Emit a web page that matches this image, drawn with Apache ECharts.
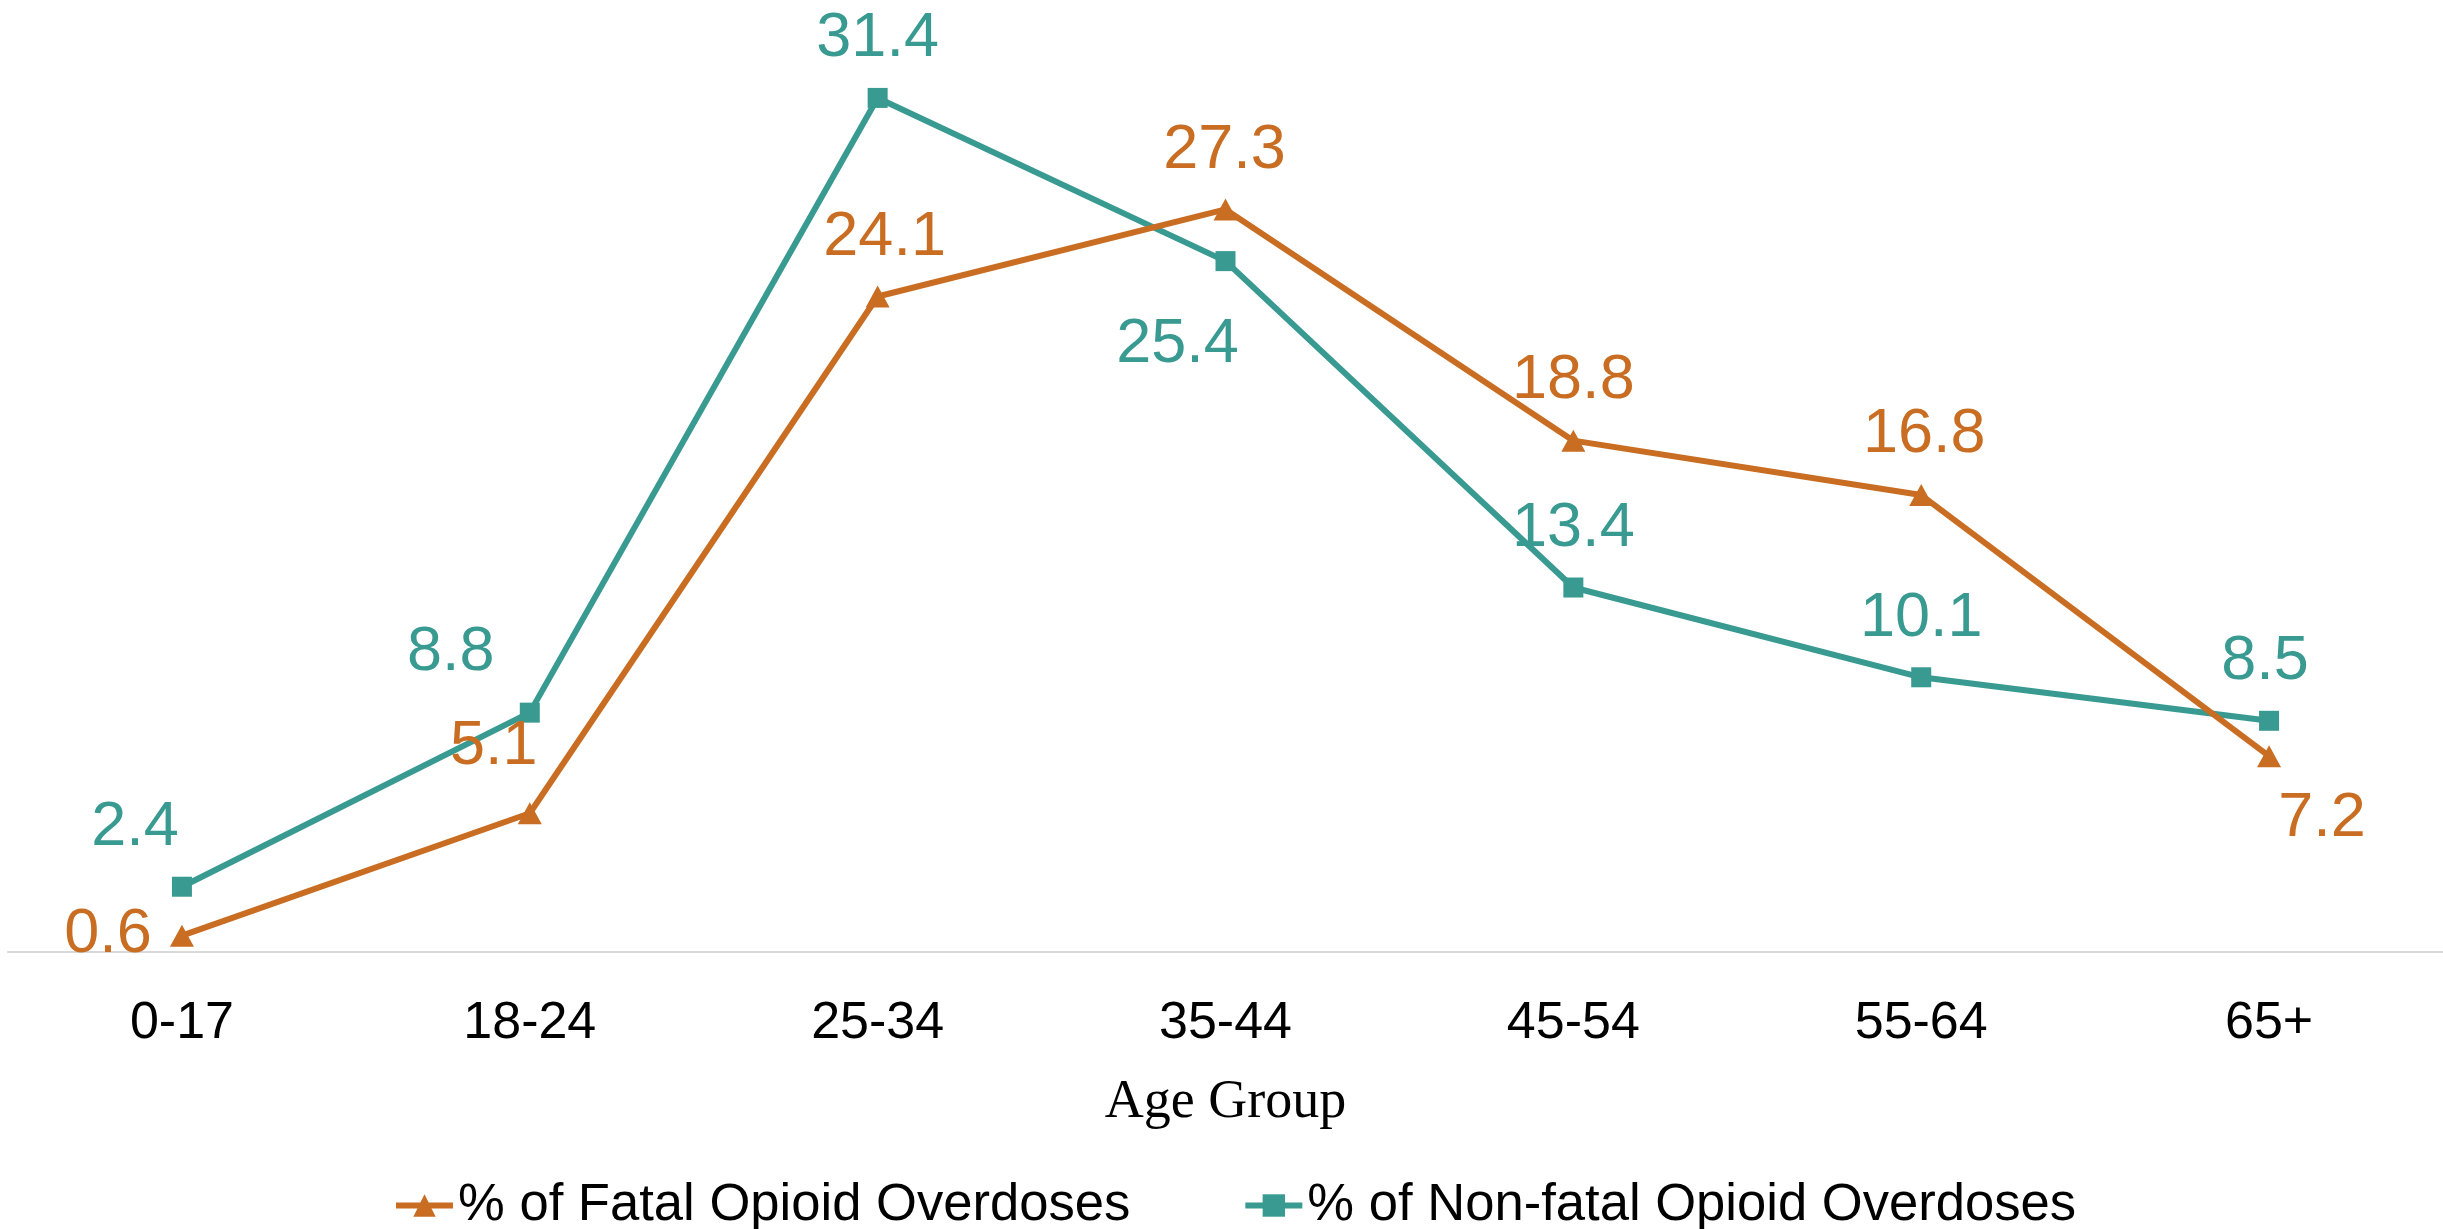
<!DOCTYPE html>
<html>
<head>
<meta charset="utf-8">
<script src="https://cdn.jsdelivr.net/npm/echarts@6/dist/echarts.min.js"></script>
<style>
html,body{margin:0;padding:0;background:#fff;}
#chart{width:2443px;height:1229px;}
</style>
</head>
<body>
<div id="chart"></div>
<script>
// ---- data ----
const categories = ['0-17', '18-24', '25-34', '35-44', '45-54', '55-64', '65+'];
const fatalName = '% of Fatal Opioid Overdoses';
const nonFatalName = '% of Non-fatal Opioid Overdoses';
const fatalValues = [0.6, 5.1, 24.1, 27.3, 18.8, 16.8, 7.2];
const nonFatalValues = [2.4, 8.8, 31.4, 25.4, 13.4, 10.1, 8.5];
const xAxisTitle = 'Age Group';

// ---- layout (label offsets relative to each point) ----
const fatalLabelOffsets = [[-74, -1], [-36, -67], [7, -59], [-1, -59], [0, -60], [3, -60], [53, 62]];
const nonFatalLabelOffsets = [[-47, -59], [-79, -60], [0, -59], [-48, 84], [0, -59], [0, -59], [-4, -59]];

const ORANGE = '#C96D22';
const TEAL = '#389A90';
const SANS = '"Liberation Sans", Arial, sans-serif';

function buildData(values, offsets) {
  return values.map((v, i) => ({ value: v, label: { offset: offsets[i] } }));
}

const chart = echarts.init(document.getElementById('chart'), null, { renderer: 'canvas' });
chart.setOption({
  animation: false,
  backgroundColor: '#ffffff',
  grid: { left: 8, right: 0, top: 0, bottom: 277, containLabel: false },
  xAxis: {
    type: 'category',
    data: categories,
    boundaryGap: true,
    axisLine: { show: true, lineStyle: { color: '#d9d9d9', width: 2 } },
    axisTick: { show: false },
    splitLine: { show: false },
    axisLabel: { color: '#000', fontFamily: SANS, fontSize: 52, margin: 46 },
    name: xAxisTitle,
    nameLocation: 'middle',
    nameGap: 124,
    nameTextStyle: { color: '#000', fontFamily: '"Liberation Serif", "Times New Roman", serif', fontSize: 54 }
  },
  yAxis: {
    type: 'value',
    min: 0,
    max: 35,
    show: false,
    splitLine: { show: false }
  },
  legend: {
    data: [fatalName, nonFatalName],
    left: 388,
    top: 1174,
    itemWidth: 57,
    itemHeight: 28,
    itemGap: 112,
    lineStyle: { width: 6 },
    textStyle: { color: '#000', fontFamily: SANS, fontSize: 52.6 }
  },
  series: [
    {
      name: nonFatalName,
      type: 'line',
      data: buildData(nonFatalValues, nonFatalLabelOffsets),
      color: TEAL,
      symbol: 'rect',
      symbolSize: 20,
      lineStyle: { color: TEAL, width: 6 },
      itemStyle: { color: TEAL },
      label: { show: true, position: 'inside', color: TEAL, fontFamily: SANS, fontSize: 63 },
      emphasis: { disabled: true }
    },
    {
      name: fatalName,
      type: 'line',
      data: buildData(fatalValues, fatalLabelOffsets),
      color: ORANGE,
      symbol: 'triangle',
      symbolSize: [24, 22],
      lineStyle: { color: ORANGE, width: 6 },
      itemStyle: { color: ORANGE },
      label: { show: true, position: 'inside', color: ORANGE, fontFamily: SANS, fontSize: 63 },
      emphasis: { disabled: true }
    }
  ]
});
</script>
</body>
</html>
